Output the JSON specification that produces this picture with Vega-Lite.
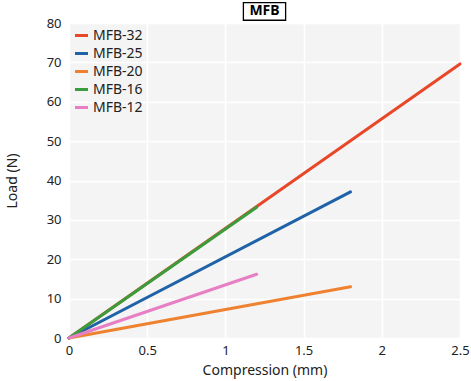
{
  "$schema": "https://vega.github.io/schema/vega-lite/v6.json",
  "width": 391,
  "height": 315,
  "autosize": "none",
  "padding": {"left": 69, "top": 23, "right": 11, "bottom": 43},
  "config": {
    "font": "Noto Sans",
    "view": {"fill": "#f3f4f3", "stroke": null},
    "axis": {"grid": true, "gridColor": "#ffffff", "gridWidth": 1.5, "domain": false, "ticks": false, "labelFontSize": 13, "titleFontSize": 14, "titleFontWeight": "normal", "labelColor": "#222", "titleColor": "#222", "labelOverlap": false, "labelFlush": false}
  },
  "datasets": {
    "lines": [
      {"series": "MFB-32", "c": 0, "load": 0},
      {"series": "MFB-32", "c": 2.5, "load": 69.6},
      {"series": "MFB-25", "c": 0, "load": 0},
      {"series": "MFB-25", "c": 1.8, "load": 37.1},
      {"series": "MFB-20", "c": 0, "load": 0},
      {"series": "MFB-20", "c": 1.8, "load": 13},
      {"series": "MFB-16", "c": 0, "load": 0},
      {"series": "MFB-16", "c": 1.2, "load": 33.2},
      {"series": "MFB-12", "c": 0, "load": 0},
      {"series": "MFB-12", "c": 1.2, "load": 16.2}
    ],
    "title": [{"label": "MFB", "x1": 1.115, "x2": 1.385, "y1": 80.7, "y2": 85.2, "xm": 1.25, "ym": 82.95}]
  },
  "layer": [
    {
      "data": {"name": "lines"},
      "mark": {"type": "line", "strokeWidth": 3, "strokeCap": "round"},
      "encoding": {
        "x": {"field": "c", "type": "quantitative", "scale": {"domain": [0, 2.5], "nice": false}, "axis": {"values": [0, 0.5, 1, 1.5, 2, 2.5], "format": "~g", "title": "Compression (mm)", "labelPadding": 6, "titlePadding": 6, "labelFlush": false, "labelOverlap": false}},
        "y": {"field": "load", "type": "quantitative", "scale": {"domain": [0, 80], "nice": false}, "axis": {"values": [0,10,20,30,40,50,60,70,80], "tickCount": 9, "title": "Load (N)", "labelPadding": 8, "titlePadding": 27, "labelOverlap": false, "labelFlush": false}},
        "color": {
          "field": "series", "type": "nominal",
          "scale": {"domain": ["MFB-32", "MFB-25", "MFB-20", "MFB-16", "MFB-12"], "range": ["#e8472a", "#1f62a8", "#ee8230", "#3a9c3a", "#e87fc4"]},
          "legend": {"title": null, "orient": "top-left", "offset": 2, "labelFontSize": 14, "labelColor": "#222", "symbolType": "stroke", "symbolStrokeWidth": 3, "symbolSize": 170, "rowPadding": 2, "labelOffset": 3, "padding": 2, "labelLimit": 200}
        },
        "order": {"field": "series", "type": "nominal", "sort": "descending"}
      }
    },
    {
      "data": {"name": "title"},
      "mark": {"type": "rect", "fill": "#ffffff", "stroke": "#000000", "strokeWidth": 1.3, "clip": false},
      "encoding": {
        "x": {"field": "x1", "type": "quantitative"},
        "x2": {"field": "x2"},
        "y": {"field": "y1", "type": "quantitative"},
        "y2": {"field": "y2"}
      }
    },
    {
      "data": {"name": "title"},
      "mark": {"type": "text", "fontSize": 14, "fontWeight": "bold", "baseline": "middle", "align": "center", "clip": false},
      "encoding": {
        "x": {"field": "xm", "type": "quantitative"},
        "y": {"field": "ym", "type": "quantitative"},
        "text": {"field": "label"}
      }
    }
  ]
}
